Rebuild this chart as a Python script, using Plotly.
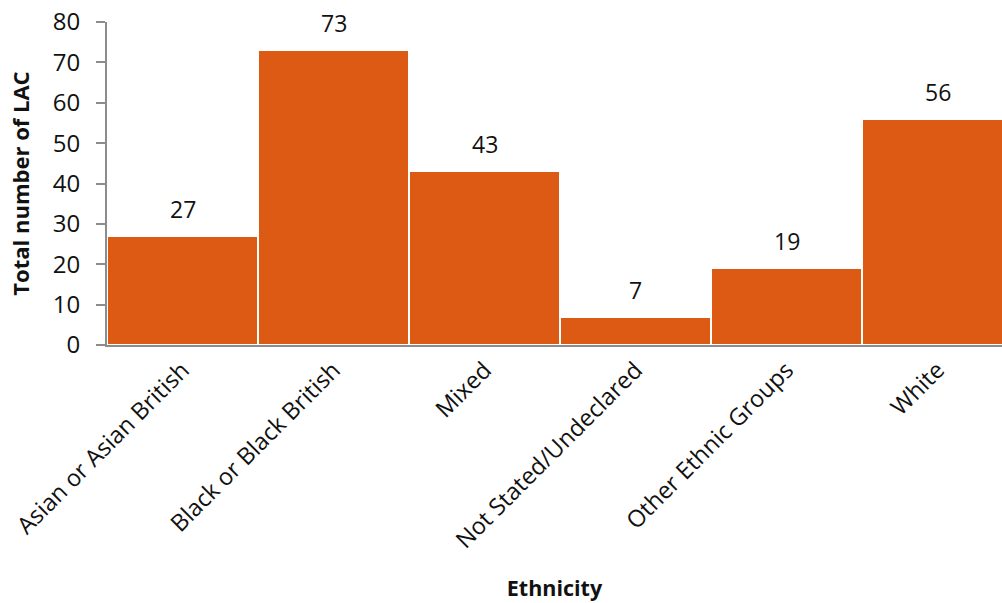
import plotly.graph_objects as go

categories = ["Asian or Asian British", "Black or Black British", "Mixed",
              "Not Stated/Undeclared", "Other Ethnic Groups", "White"]
counts = [27, 73, 43, 7, 19, 56]
y_ticks = [0, 10, 20, 30, 40, 50, 60, 70, 80]

FONT = "'Open Sans', sans-serif"
BAR = "#DC5A13"
AXIS = "#8C8C8C"
TEXT = "#111111"

fig = go.Figure(
    go.Bar(
        x=list(range(len(categories))),
        y=counts,
        width=1.0,
        marker=dict(color=BAR, line=dict(color="white", width=2)),
        hoverinfo="skip",
    )
)

# value labels sitting above each bar
for i, v in enumerate(counts):
    fig.add_annotation(
        x=i, y=v, text=str(v), showarrow=False,
        yanchor="bottom", yshift=9,
        font=dict(family=FONT, size=23, color=TEXT),
    )

fig.update_layout(
    width=1002, height=603,
    margin=dict(l=107, r=0, t=22, b=258),
    plot_bgcolor="white", paper_bgcolor="white",
    showlegend=False, bargap=0,
    font=dict(family=FONT, color=TEXT),
    xaxis=dict(
        range=[-0.5, 5.427],
        tickvals=list(range(len(categories))),
        ticktext=categories,
        tickangle=-45,
        tickfont=dict(size=23.5, family=FONT, color=TEXT),
        showline=True, linecolor=AXIS, linewidth=2,
        ticks="", showgrid=False, zeroline=False,
        title=dict(text="<b>Ethnicity</b>", font=dict(size=21.5, family=FONT, color=TEXT), standoff=27),
    ),
    yaxis=dict(
        range=[0, 80],
        tickvals=y_ticks,
        tickfont=dict(size=24, family=FONT, color=TEXT),
        ticklabelstandoff=11,
        showline=True, linecolor=AXIS, linewidth=2,
        ticks="outside", ticklen=9, tickcolor=AXIS, tickwidth=2,
        showgrid=False, zeroline=False,
        title=dict(text="<b>Total number of LAC</b>", font=dict(size=22, family=FONT, color=TEXT), standoff=17),
    ),
)

fig.write_html("out.html")
